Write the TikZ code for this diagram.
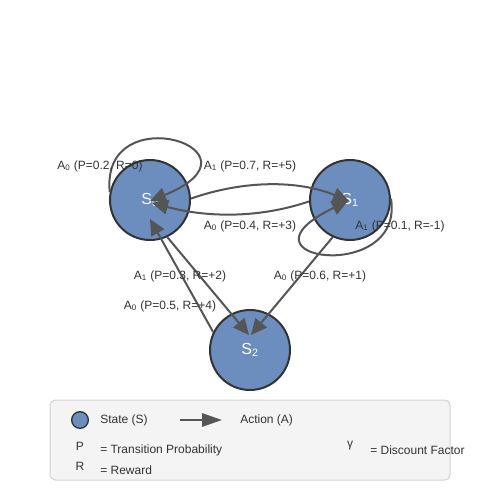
\documentclass[tikz,border=0pt]{standalone}
\usepackage{fontspec}
\setmainfont{Liberation Sans}
\usetikzlibrary{arrows.meta}
\definecolor{nodefill}{RGB}{107,142,190}
\definecolor{nodeline}{RGB}{51,51,51}
\definecolor{edgecol}{RGB}{85,85,85}
\definecolor{txt}{RGB}{51,51,51}
\definecolor{legfill}{RGB}{244,244,244}
\definecolor{legline}{RGB}{210,210,210}
\begin{document}
\begin{tikzpicture}[x=0.75pt,y=-0.75pt,
  state/.style={circle,draw=nodeline,fill=nodefill,line width=1.5pt,minimum size=60pt,inner sep=0pt,text=white,font=\fontsize{12}{14}\selectfont},
  edge/.style={draw=edgecol,line width=1.5pt,-{Triangle[length=12pt,width=11pt]}},
  lbl/.style={text=txt,font=\fontsize{9}{11}\selectfont,inner sep=0pt},
  legtxt/.style={lbl,anchor=west},
  legbox/.style={draw=legline,fill=legfill,line width=0.75pt,rounded corners=4pt},
]
\useasboundingbox (0,0) rectangle (500,500);
\fill[white] (0,0) rectangle (500,500);

% states
\node[state] (S0) at (150,200) {S\textsubscript{0}};
\node[state] (S1) at (350,200) {S\textsubscript{1}};
\node[state] (S2) at (250,350) {S\textsubscript{2}};

% arrow tip points
\coordinate (t00) at (150,201);
\coordinate (t01) at (349,201);
\coordinate (t10) at (152,203);
\coordinate (t11) at (348,201);
\coordinate (t20) at (150,219);
\coordinate (t02) at (249,335);
\coordinate (t12) at (251,335);

% edges
\draw[edge] (S0.169) .. controls (100,95) and (275,150) .. (t00);
\draw[edge] (S0.2) .. controls (244,180) and (298,180) .. (t01);
\draw[edge] (S1.182) .. controls (260,218) and (209,218) .. (t10);
\draw[edge] (S1.2) .. controls (405,285) and (225,260) .. (t11);
\draw[edge] (S0.295) -- (t02);
\draw[edge] (S2.154) -- (t20);
\draw[edge] (S1.245) -- (t12);

% edge labels
\node[lbl] (l1) at (100,166) {A\textsubscript{0} (P=0.2, R=0)};
\node[lbl] (l2) at (250,166) {A\textsubscript{1} (P=0.7, R=+5)};
\node[lbl] (l3) at (250,226) {A\textsubscript{0} (P=0.4, R=+3)};
\node[lbl] (l4) at (400,226) {A\textsubscript{1} (P=0.1, R=-1)};
\node[lbl] (l5) at (180,276) {A\textsubscript{1} (P=0.3, R=+2)};
\node[lbl] (l6) at (170,306) {A\textsubscript{0} (P=0.5, R=+4)};
\node[lbl] (l7) at (320,276) {A\textsubscript{0} (P=0.6, R=+1)};

% legend
\draw[legbox] (50,400) rectangle (450,480);
\node[circle,draw=nodeline,fill=nodefill,line width=1pt,minimum size=12.5pt,inner sep=0pt] (legS) at (80,420) {};
\node[legtxt] (legStxt) at (100,420) {State (S)};
\coordinate (la1) at (180,420);
\coordinate (la2) at (222,420);
\draw[draw=edgecol,line width=1.5pt,-{Triangle[length=15pt,width=10pt]}] (la1) -- (la2);
\node[legtxt] (legAtxt) at (240,420) {Action (A)};
\node[lbl] (legP) at (80,446) {P};
\node[legtxt] (legPtxt) at (100,450) {= Transition Probability};
\node[lbl] (legR) at (80,466) {R};
\node[legtxt] (legRtxt) at (100,470) {= Reward};
\node[lbl] (legG) at (350,446) {γ};
\node[legtxt] (legGtxt) at (370,450) {= Discount Factor};
\end{tikzpicture}
\end{document}
